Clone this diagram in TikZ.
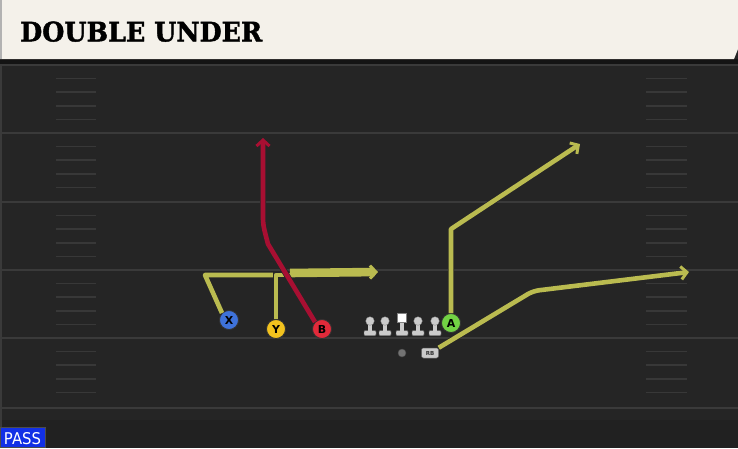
\documentclass[tikz,border=0pt]{standalone}
\usepackage{fontspec}
\usepackage{graphicx}
\usetikzlibrary{arrows.meta}
\newfontfamily\titlefont{DejaVu Serif}[FakeBold=1.6]
\newfontfamily\uisans{DejaVu Sans}
\definecolor{fieldbg}{HTML}{252525}
\definecolor{yardline}{HTML}{3A3A3A}
\definecolor{hashc}{HTML}{383838}
\definecolor{headcream}{HTML}{F4F1EA}
\definecolor{routeyel}{HTML}{BABB50}
\definecolor{routered}{HTML}{A80F32}
\definecolor{xblue}{HTML}{3E72DA}
\definecolor{yyellow}{HTML}{F2C21E}
\definecolor{bred}{HTML}{E12A3A}
\definecolor{agreen}{HTML}{72D244}
\definecolor{pawnlight}{HTML}{CBCBCB}
\definecolor{passblue}{HTML}{1230E6}
\tikzset{
  routeline/.style={line width=4.6pt, line join=round,
    preaction={draw=black!85, line width=6pt}},
  yroute/.style={routeline, draw=routeyel},
  rroute/.style={routeline, draw=routered},
  thickroute/.style={line width=8.6pt, draw=routeyel,
    preaction={draw=black!85, line width=10pt}},
  barb/.style={-{Straight Barb[length=6pt,width=13pt,line width=3pt]}},
  player/.style={circle, minimum size=19pt, inner sep=0pt, draw=black!80,
    line width=0.8pt, font=\uisans\bfseries\fontsize{11}{11}\selectfont, text=black},
  yardstroke/.style={draw=yardline, line width=1.8pt},
  hashstroke/.style={draw=hashc, line width=1.6pt},
  pawn/.pic={
    \fill[pawnlight, draw=black!60, line width=0.4pt, rounded corners=1pt] (-6,9.5) rectangle (6,14.5);
    \fill[pawnlight] (-2,0) rectangle (2,10);
    \fill[pawnlight, draw=black!50, line width=0.3pt] (0,0) circle (4.3);
  },
  snap/.pic={
    \fill[pawnlight, draw=black!60, line width=0.4pt, rounded corners=1pt] (-6,9.5) rectangle (6,14.5);
    \fill[pawnlight] (-2,0) rectangle (2,10);
    \fill[white, draw=black!50, line width=0.4pt] (-4.5,-8) rectangle (4.5,1);
  }
}
\begin{document}
\begin{tikzpicture}[x=1pt,y=-1pt]
\useasboundingbox (0,0) rectangle (738,448);
% field
\fill[fieldbg] (0,0) rectangle (738,448);
\fill[black!20!fieldbg, opacity=0.5] (0,420) rectangle (738,448);
\fill[black!45!fieldbg] (0,59) rectangle (738,64);
\fill[yardline] (0,64) rectangle (2,448);
% yard lines
\foreach \yy in {65,133,202,270,338,408}{
  \draw[yardstroke] (2,\yy) -- (738,\yy);
}
% hash marks
\foreach \yy in {65,133,202,270,338}{
  \foreach \k in {1,2,3,4}{
    \draw[hashstroke] (56,\yy+13.6*\k) -- (96,\yy+13.6*\k);
    \draw[hashstroke] (646,\yy+13.6*\k) -- (687,\yy+13.6*\k);
  }
}
% header
\fill[headcream] (0,0) -- (738,0) -- (738,49) -- (734,59) -- (0,59) -- cycle;
\fill[black!30] (0,0) rectangle (2,59);
\node[anchor=south west, inner sep=0pt] (title) at (20,42)
  {\resizebox{242pt}{20pt}{\titlefont\bfseries DOUBLE UNDER}};
% PASS label
\node[anchor=south west, inner sep=0pt, minimum width=45pt, minimum height=20pt,
  fill=passblue, draw=black!70, line width=0.6pt] (pass) at (0,448) {};
\node[inner sep=0pt, text=white] (passtxt) at (22.5,438.5)
  {\resizebox{37pt}{12pt}{\uisans PASS}};
% players
\node[player, fill=xblue] (X) at (229,320) {X};
\node[player, fill=yyellow] (Y) at (276,329) {Y};
\node[player, fill=bred] (B) at (322,329) {B};
\node[player, fill=agreen] (A) at (451,323) {A};
% line
\pic (LT) at (370,321) {pawn};
\pic (LG) at (385,321) {pawn};
\pic (C) at (402,321) {snap};
\pic (RG) at (418,321) {pawn};
\pic (RT) at (435,321) {pawn};
\node[circle, fill=black!55, draw=black!70, line width=0.4pt, minimum size=8pt, inner sep=0pt] (QB) at (402,353) {};
\node[rounded corners=2pt, fill=pawnlight, draw=black!60, line width=0.5pt, minimum width=17pt,
  minimum height=10pt, inner sep=0pt, font=\uisans\bfseries\fontsize{5.5}{5.5}\selectfont, text=black!80] (RB) at (430,353) {RB};
% route waypoints
\coordinate (xc) at (205,275);
\coordinate (yc) at (276,275);
\coordinate (jn) at (291,275);
\coordinate (js) at (290,273);
\coordinate (yt) at (378,272);
\coordinate (bc) at (268,244);
\coordinate (bk) at (263,225);
\coordinate (bt) at (263,138);
\coordinate (ac) at (451,229);
\coordinate (at1) at (580,144);
\coordinate (rc) at (533,291);
\coordinate (rt) at (689,272);
% routes
\draw[yroute] (X.north west) -- (xc) -- (jn);
\draw[yroute] (Y.north) -- (yc) -- (jn);
\draw[thickroute, barb] (js) -- (yt);
\draw[rroute, barb] (B.north west) -- (bc) .. controls (bk) .. (263,215) -- (bt);
\draw[yroute, barb] (A.north) -- (ac) -- (at1);
\draw[yroute, barb, rounded corners=6pt] (RB.north east) -- (rc) -- (rt);
\end{tikzpicture}
\end{document}
